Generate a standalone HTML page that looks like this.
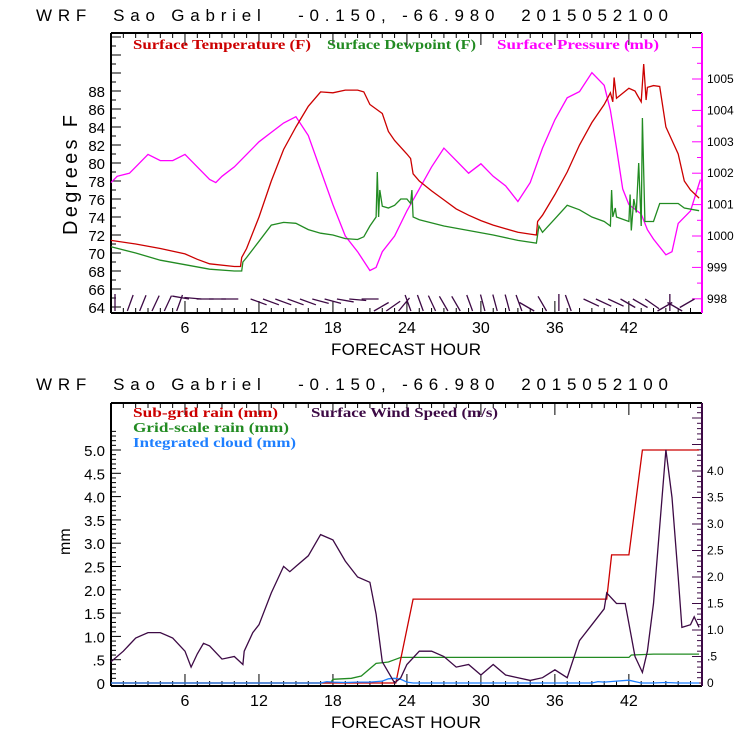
<!DOCTYPE html>
<html><head><meta charset="utf-8"><style>
body{margin:0;background:#fff}
svg{display:block;font-family:"Liberation Sans",sans-serif}
.pre{white-space:pre}
</style></head><body>
<svg id="c" width="740" height="740" viewBox="0 0 740 740" xmlns="http://www.w3.org/2000/svg">
<rect width="740" height="740" fill="#fff"/>
<text class="pre" x="36" y="21" font-size="17" textLength="632" lengthAdjust="spacing">WRF  Sao Gabriel   -0.150, -66.980  2015052100</text>
<text class="pre" x="36" y="390" font-size="17" textLength="632" lengthAdjust="spacing">WRF  Sao Gabriel   -0.150, -66.980  2015052100</text>
<g id="topPanel"></g>
<g id="botPanel"></g>
</svg>
<script>
// ---- data ----
const tempHours=[0,2,4,6,7,8,10,10.5,10.6,11,12,13,14,15,16,17,18,19,20,20.5,21,22,22.5,23,24,24.3,24.5,25,26,27,28,29,30,31,32,33,34,34.5,34.6,35,36,37,38,39,40,40.5,40.7,40.8,41,42,42.5,42.7,43,43.2,43.4,43.5,44,44.5,45,46,46.5,47,47.7];
const tempF=[71.4,71,70.5,69.9,69.3,68.8,68.5,68.5,69.5,70.5,74,78,81.5,84,86.3,87.9,87.8,88.1,88.1,87.9,86.5,85.5,83.5,82.5,81,80.5,78.8,78,76.9,75.9,74.9,74.2,73.6,73.1,72.7,72.3,72.1,72,73.5,74.2,76.5,79,82,84.5,86.5,87.8,86.8,89.5,87.2,88.3,88,87.5,86.8,91,87,88.4,88.6,88.5,84,81,78,77,76.1];
const dewHours=[0,2,4,6,8,10,10.6,10.7,11,12,13,14,15,16,17,18,19,20,20.5,21,21.5,21.6,21.7,21.8,22,22.5,23,23.5,24,24.3,24.4,24.5,25,27,29,31,33,34.5,34.7,35,36,37,38,39,40,40.5,40.6,40.7,40.9,41,42,42.1,42.2,42.4,42.6,42.8,43,43.1,43.3,43.5,44,44.5,46,46.5,47.7];
const dewF=[70.7,70,69.2,68.7,68.2,68,68,69,69.5,71.3,73.1,73.4,73.3,72.6,72.2,72,71.6,71.5,71.8,73,74,79,74,77,75.2,75,75.3,76,76,75.5,77,74,73.7,73,72.5,72,71.4,71.1,73,72.3,73.8,75.3,74.8,74,73.5,73,77,74,75,74,73.5,76.5,72.5,76,74.5,80,73,85,73.5,73.5,73.5,75.5,75.5,75,74.7];
const presHours=[0,0.5,1.5,2,3,4,5,6,7,8,8.5,9,10,11,12,13,14,15,16,17,18,19,20,21,21.5,22,23,24,25,26,27,28,29,30,31,32,33,34,35,36,37,38,39,40,40.5,41,41.5,42,43,43.5,44,45,45.5,46,47,47.8];
const presMb=[1001.7,1001.9,1002,1002.2,1002.6,1002.4,1002.4,1002.6,1002.2,1001.8,1001.7,1001.9,1002.2,1002.6,1003,1003.3,1003.6,1003.8,1003.2,1002.1,1001,1000,999.5,998.9,999,999.5,1000,1000.8,1001.5,1002.2,1002.8,1002.4,1002,1002.3,1001.9,1001.6,1001.1,1001.7,1002.8,1003.7,1004.4,1004.6,1005.2,1004.8,1004,1002.8,1001.5,1001,1000.7,1000.2,999.9,999.4,999.5,1000.4,1000.8,1001.8];
const barbAngles=[0,20,22,25,25,20,-80,-85,-90,-90,-90,110,110,110,110,110,105,105,100,95,90,60,55,40,-20,-20,-25,-30,-30,-20,-15,-15,-15,-20,-60,-30,0,-20,115,115,115,120,120,125,60,0,-60,-120];
const windHours=[0,1,2,3,4,5,6,6.5,7,7.5,8,9,10,10.7,10.8,11.5,12,13,14,14.5,15,16,17,18,19,20,21,21.5,22,23,23.5,24,25,26,27,28,29,30,31,32,33,34,35,36,37,38,39,40,40.2,41,41.7,42.5,43.1,43.5,44,45,45.5,46,46.3,47,47.3,47.7];
const windMs=[0.4,0.6,0.85,0.95,0.95,0.85,0.6,0.3,0.55,0.75,0.7,0.45,0.5,0.35,0.6,0.95,1.1,1.7,2.2,2.1,2.2,2.4,2.8,2.7,2.3,2.0,1.9,1.3,0.4,0.0,0.1,0.35,0.6,0.6,0.5,0.3,0.35,0.15,0.35,0.15,0.1,0.05,0.1,0.25,0.1,0.8,1.1,1.4,1.7,1.5,1.5,0.5,0.2,0.6,1.5,4.4,3.5,2.0,1.05,1.1,1.25,1.05];
const subHours=[0,23.1,24.5,40.2,40.6,42,43.1,47.7];
const subMm=[0,0,1.8,1.8,2.75,2.75,5.0,5.0];
const gridHours=[0,17.8,18,19.5,20.3,21.5,22.5,23,23.5,42,42.2,44,47.7];
const gridMm=[0,0,0.08,0.1,0.15,0.42,0.45,0.5,0.55,0.55,0.6,0.62,0.62];
const cloudHours=[0,17,17.5,18,19,20,21,22,22.5,23,23.5,24,24.5,39,39.5,40,41,42,42.5,43,44,45,46,47.7];
const cloudMm=[0,0,0.03,0.02,0.01,0.02,0.02,0.04,0.09,0.1,0.08,0.02,0,0,0.03,0.02,0.04,0.06,0.03,0,0,0.01,0,0];
const tempTicks=[64,66,68,70,72,74,76,78,80,82,84,86,88];
const presTicks=[998,999,1000,1001,1002,1003,1004,1005];
const mmTicks=[0,0.5,1,1.5,2,2.5,3,3.5,4,4.5,5];
const mmLabels=["0",".5","1.0","1.5","2.0","2.5","3.0","3.5","4.0","4.5","5.0"];
const wsTicks=[0,0.5,1,1.5,2,2.5,3,3.5,4];
const wsLabels=["0",".5","1.0","1.5","2.0","2.5","3.0","3.5","4.0"];
const hourTicks=[6,12,18,24,30,36,42];

// ---- scales ----
const X0=111,X1=702;
const xs=h=>X0+h*12.33;
const yT=v=>307-(v-64)*9;
const yP=v=>236-(v-1000)*31.4;
const yMm=v=>683-v*46.6;
const yWs=v=>683-v*53;
const NS="http://www.w3.org/2000/svg";
function mk(p,t,a){const e=document.createElementNS(NS,t);for(const k in a)e.setAttribute(k,a[k]);p.appendChild(e);return e;}
function txt(p,x,y,s,a){const e=mk(p,'text',Object.assign({x:x,y:y},a));e.textContent=s;return e;}
function path(p,hs,vs,ys,col,name){
  const d=hs.map((h,i)=>(i?'L':'M')+xs(h).toFixed(1)+','+ys(vs[i]).toFixed(1)).join('');
  const e=mk(p,'path',{d:d,fill:'none',stroke:col,'stroke-width':1.3});
  
  
}
function frame(g,yTop,yBot,rcol){
  mk(g,'line',{x1:X0,y1:yTop,x2:X1,y2:yTop,stroke:'#000','stroke-width':2});
  mk(g,'line',{x1:X0,y1:yBot,x2:X1,y2:yBot,stroke:'#000','stroke-width':2});
  mk(g,'line',{x1:X0,y1:yTop,x2:X0,y2:yBot,stroke:'#000','stroke-width':2});
  mk(g,'line',{x1:X1,y1:yTop,x2:X1,y2:yBot,stroke:rcol,'stroke-width':2});
  for(let h=1;h<48;h++){
    const len=h%6===0?12:5;
    mk(g,'line',{x1:xs(h),y1:yBot,x2:xs(h),y2:yBot-len,stroke:'#000'});
    mk(g,'line',{x1:xs(h),y1:yTop,x2:xs(h),y2:yTop+len,stroke:'#000'});
  }
  hourTicks.forEach(h=>{
    const t=txt(g,xs(h),yBot+20,String(h),{'font-size':16,'text-anchor':'middle'});
    
    
  });
  const xt=txt(g,406,yBot+42,'FORECAST HOUR',{'font-size':17,'text-anchor':'middle',textLength:150,lengthAdjust:'spacing'});
  
  
}
function legend(g,label,col,x,y,w){
  const t=txt(g,x,y,label,{'font-size':14,'font-weight':'bold',fill:col,'font-family':'Liberation Serif, serif',textLength:w,lengthAdjust:'spacingAndGlyphs'});
  
  
}

// ---- top panel ----
const topG=document.getElementById('topPanel');
frame(topG,33,313,'#ff00ff');
for(let v=64;v<=94;v++){mk(topG,'line',{x1:X0,y1:yT(v),x2:X0+(v%2?5:10),y2:yT(v),stroke:'#000'});}
tempTicks.forEach(v=>{const t=txt(topG,105,yT(v)+6,String(v),{'font-size':15,'text-anchor':'end'});
  });
for(let v=997.5;v<=1006;v+=0.5){const y=yP(v);if(y<34||y>312)continue;mk(topG,'line',{x1:X1,y1:y,x2:X1-(v%1?5:10),y2:y,stroke:'#ff00ff'});}
presTicks.forEach(v=>{const t=txt(topG,707,yP(v)+4,String(v),{'font-size':12});
  });
const yt=txt(topG,0,0,'Degrees F',{'font-size':20,transform:'translate(77,235) rotate(-90)',textLength:120,lengthAdjust:'spacing'});

path(topG,presHours,presMb,yP,'#ff00ff','pressure-line');
path(topG,tempHours,tempF,yT,'#cc0000','temperature-line');
path(topG,dewHours,dewF,yT,'#228b22','dewpoint-line');
barbAngles.forEach((a,i)=>{
  const horiz=(a>60&&a<130)||(a<-60&&a>-130);
  const x=xs(i)+4,y=311-(horiz?12:0),r=a*Math.PI/180,L=17;
  const e=mk(topG,'line',{x1:x,y1:y,x2:x+L*Math.sin(r),y2:y-L*Math.cos(r),stroke:'#3d0a45','stroke-width':1.3});
  
  
});
legend(topG,'Surface Temperature (F)','#cc0000',133,49,178);
legend(topG,'Surface Dewpoint (F)','#228b22',327,49,149);
legend(topG,'Surface Pressure (mb)','#ff00ff',497,49,162);

// ---- bottom panel ----
const botG=document.getElementById('botPanel');
frame(botG,403,686,'#3d0a45');
for(let v=0;v<=5.4;v+=0.1){const y=yMm(v);if(y<404)continue;mk(botG,'line',{x1:X0,y1:y,x2:X0+(Math.round(v*10)%5?5:10),y2:y,stroke:'#000'});}
mmTicks.forEach((v,i)=>{const t=txt(botG,105,yMm(v)+6,mmLabels[i],{'font-size':15,'text-anchor':'end'});
  });
for(let v=0;v<=5.2;v+=0.1){const y=yWs(v);if(y<404)continue;mk(botG,'line',{x1:X1,y1:y,x2:X1-(Math.round(v*10)%5?5:10),y2:y,stroke:'#3d0a45'});}
wsTicks.forEach((v,i)=>{const t=txt(botG,707,yWs(v)+4,wsLabels[i],{'font-size':12});
  });
const yt2=txt(botG,0,0,'mm',{'font-size':16,transform:'translate(70,555) rotate(-90)'});

path(botG,gridHours,gridMm,yMm,'#228b22','grid-scale-rain-line');
path(botG,subHours,subMm,yMm,'#cc0000','sub-grid-rain-line');
path(botG,cloudHours,cloudMm,yMm,'#1e7fff','integrated-cloud-line');
path(botG,windHours,windMs,yWs,'#3d0a45','wind-speed-line');
legend(botG,'Sub-grid rain (mm)','#cc0000',133,417,145);
legend(botG,'Surface Wind Speed (m/s)','#3d0a45',311,417,187);
legend(botG,'Grid-scale rain (mm)','#228b22',133,432,156);
legend(botG,'Integrated cloud (mm)','#1e7fff',133,447,163);
</script>
</body></html>
